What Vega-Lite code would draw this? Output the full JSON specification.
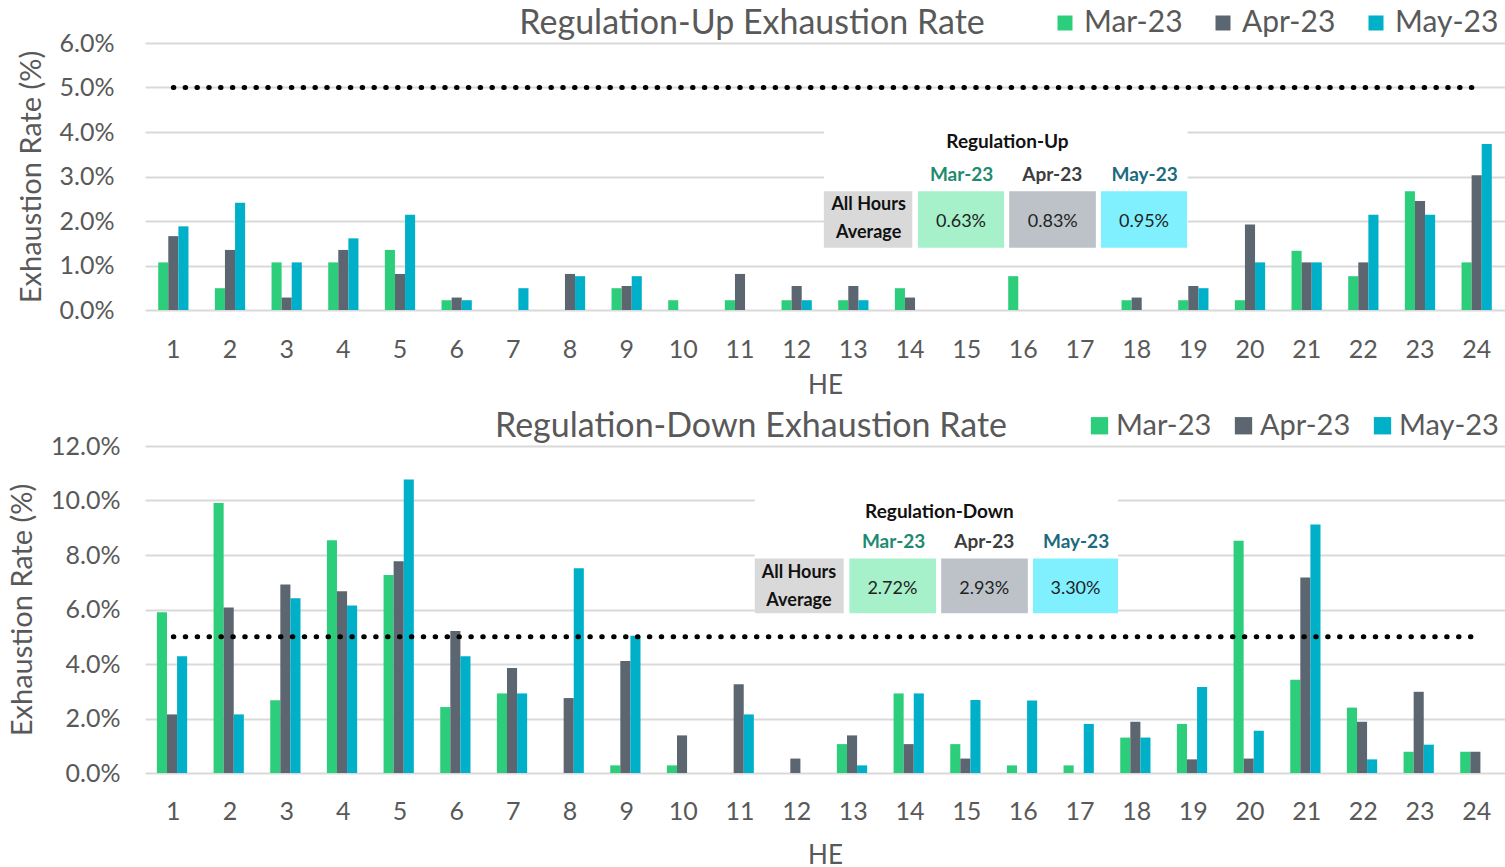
{
  "$schema": "https://vega.github.io/schema/vega-lite/v6.json",
  "padding": {"left": 8, "top": 7, "right": 0, "bottom": 0},
  "background": "white",
  "spacing": 12,
  "config": {
    "font": "Lato",
    "view": {"stroke": null},
    "axis": {"labelFont": "Lato", "titleFont": "Lato", "labelColor": "#595959", "titleColor": "#595959", "titleFontWeight": "normal", "gridColor": "#d9d9d9", "gridWidth": 2, "domain": false, "ticks": false}
  },
  "datasets": {
    "up": [
      {"he":1,"m":"Mar-23","v":1.07},{"he":1,"m":"Apr-23","v":1.66},{"he":1,"m":"May-23","v":1.88},
      {"he":2,"m":"Mar-23","v":0.49},{"he":2,"m":"Apr-23","v":1.35},{"he":2,"m":"May-23","v":2.41},
      {"he":3,"m":"Mar-23","v":1.07},{"he":3,"m":"Apr-23","v":0.28},{"he":3,"m":"May-23","v":1.07},
      {"he":4,"m":"Mar-23","v":1.07},{"he":4,"m":"Apr-23","v":1.35},{"he":4,"m":"May-23","v":1.61},
      {"he":5,"m":"Mar-23","v":1.35},{"he":5,"m":"Apr-23","v":0.81},{"he":5,"m":"May-23","v":2.14},
      {"he":6,"m":"Mar-23","v":0.22},{"he":6,"m":"Apr-23","v":0.28},{"he":6,"m":"May-23","v":0.22},
      {"he":7,"m":"Mar-23","v":0},{"he":7,"m":"Apr-23","v":0},{"he":7,"m":"May-23","v":0.49},
      {"he":8,"m":"Mar-23","v":0},{"he":8,"m":"Apr-23","v":0.81},{"he":8,"m":"May-23","v":0.76},
      {"he":9,"m":"Mar-23","v":0.49},{"he":9,"m":"Apr-23","v":0.54},{"he":9,"m":"May-23","v":0.76},
      {"he":10,"m":"Mar-23","v":0.22},{"he":10,"m":"Apr-23","v":0},{"he":10,"m":"May-23","v":0},
      {"he":11,"m":"Mar-23","v":0.22},{"he":11,"m":"Apr-23","v":0.81},{"he":11,"m":"May-23","v":0},
      {"he":12,"m":"Mar-23","v":0.22},{"he":12,"m":"Apr-23","v":0.54},{"he":12,"m":"May-23","v":0.22},
      {"he":13,"m":"Mar-23","v":0.22},{"he":13,"m":"Apr-23","v":0.54},{"he":13,"m":"May-23","v":0.22},
      {"he":14,"m":"Mar-23","v":0.49},{"he":14,"m":"Apr-23","v":0.28},{"he":14,"m":"May-23","v":0},
      {"he":15,"m":"Mar-23","v":0},{"he":15,"m":"Apr-23","v":0},{"he":15,"m":"May-23","v":0},
      {"he":16,"m":"Mar-23","v":0.76},{"he":16,"m":"Apr-23","v":0},{"he":16,"m":"May-23","v":0},
      {"he":17,"m":"Mar-23","v":0},{"he":17,"m":"Apr-23","v":0},{"he":17,"m":"May-23","v":0},
      {"he":18,"m":"Mar-23","v":0.22},{"he":18,"m":"Apr-23","v":0.28},{"he":18,"m":"May-23","v":0},
      {"he":19,"m":"Mar-23","v":0.22},{"he":19,"m":"Apr-23","v":0.54},{"he":19,"m":"May-23","v":0.49},
      {"he":20,"m":"Mar-23","v":0.22},{"he":20,"m":"Apr-23","v":1.92},{"he":20,"m":"May-23","v":1.07},
      {"he":21,"m":"Mar-23","v":1.33},{"he":21,"m":"Apr-23","v":1.07},{"he":21,"m":"May-23","v":1.07},
      {"he":22,"m":"Mar-23","v":0.76},{"he":22,"m":"Apr-23","v":1.07},{"he":22,"m":"May-23","v":2.14},
      {"he":23,"m":"Mar-23","v":2.67},{"he":23,"m":"Apr-23","v":2.45},{"he":23,"m":"May-23","v":2.14},
      {"he":24,"m":"Mar-23","v":1.07},{"he":24,"m":"Apr-23","v":3.03},{"he":24,"m":"May-23","v":3.73}
    ],
    "down": [
      {"he":1,"m":"Mar-23","v":5.9},{"he":1,"m":"Apr-23","v":2.15},{"he":1,"m":"May-23","v":4.28},
      {"he":2,"m":"Mar-23","v":9.91},{"he":2,"m":"Apr-23","v":6.07},{"he":2,"m":"May-23","v":2.15},
      {"he":3,"m":"Mar-23","v":2.67},{"he":3,"m":"Apr-23","v":6.92},{"he":3,"m":"May-23","v":6.41},
      {"he":4,"m":"Mar-23","v":8.54},{"he":4,"m":"Apr-23","v":6.67},{"he":4,"m":"May-23","v":6.15},
      {"he":5,"m":"Mar-23","v":7.27},{"he":5,"m":"Apr-23","v":7.77},{"he":5,"m":"May-23","v":10.77},
      {"he":6,"m":"Mar-23","v":2.42},{"he":6,"m":"Apr-23","v":5.21},{"he":6,"m":"May-23","v":4.28},
      {"he":7,"m":"Mar-23","v":2.92},{"he":7,"m":"Apr-23","v":3.85},{"he":7,"m":"May-23","v":2.92},
      {"he":8,"m":"Mar-23","v":0},{"he":8,"m":"Apr-23","v":2.75},{"he":8,"m":"May-23","v":7.51},
      {"he":9,"m":"Mar-23","v":0.28},{"he":9,"m":"Apr-23","v":4.11},{"he":9,"m":"May-23","v":5.04},
      {"he":10,"m":"Mar-23","v":0.28},{"he":10,"m":"Apr-23","v":1.38},{"he":10,"m":"May-23","v":0},
      {"he":11,"m":"Mar-23","v":0},{"he":11,"m":"Apr-23","v":3.26},{"he":11,"m":"May-23","v":2.15},
      {"he":12,"m":"Mar-23","v":0},{"he":12,"m":"Apr-23","v":0.53},{"he":12,"m":"May-23","v":0},
      {"he":13,"m":"Mar-23","v":1.06},{"he":13,"m":"Apr-23","v":1.38},{"he":13,"m":"May-23","v":0.28},
      {"he":14,"m":"Mar-23","v":2.92},{"he":14,"m":"Apr-23","v":1.06},{"he":14,"m":"May-23","v":2.92},
      {"he":15,"m":"Mar-23","v":1.06},{"he":15,"m":"Apr-23","v":0.53},{"he":15,"m":"May-23","v":2.68},
      {"he":16,"m":"Mar-23","v":0.28},{"he":16,"m":"Apr-23","v":0},{"he":16,"m":"May-23","v":2.66},
      {"he":17,"m":"Mar-23","v":0.28},{"he":17,"m":"Apr-23","v":0},{"he":17,"m":"May-23","v":1.8},
      {"he":18,"m":"Mar-23","v":1.3},{"he":18,"m":"Apr-23","v":1.88},{"he":18,"m":"May-23","v":1.3},
      {"he":19,"m":"Mar-23","v":1.8},{"he":19,"m":"Apr-23","v":0.5},{"he":19,"m":"May-23","v":3.16},
      {"he":20,"m":"Mar-23","v":8.52},{"he":20,"m":"Apr-23","v":0.53},{"he":20,"m":"May-23","v":1.55},
      {"he":21,"m":"Mar-23","v":3.42},{"he":21,"m":"Apr-23","v":7.17},{"he":21,"m":"May-23","v":9.12},
      {"he":22,"m":"Mar-23","v":2.4},{"he":22,"m":"Apr-23","v":1.88},{"he":22,"m":"May-23","v":0.5},
      {"he":23,"m":"Mar-23","v":0.78},{"he":23,"m":"Apr-23","v":2.98},{"he":23,"m":"May-23","v":1.04},
      {"he":24,"m":"Mar-23","v":0.78},{"he":24,"m":"Apr-23","v":0.78},{"he":24,"m":"May-23","v":0}
    ]
  },
  "vconcat": [
    {
      "width": 1360,
      "height": 267,
      "title": {"text": "Regulation-Up Exhaustion Rate", "fontSize": 34, "fontWeight": "normal", "color": "#595959", "font": "Lato", "anchor": "middle", "dx": -73, "dy": 39, "offset": 6},
      "resolve": {"scale": {"x": "independent"}},
      "layer": [
        {
          "data": {"name": "up"},
          "mark": {"type": "bar"},
          "encoding": {
            "x": {"field": "he", "type": "ordinal", "sort": "ascending", "scale": {"paddingInner": 0.466, "paddingOuter": 0.233}, "axis": {"title": "HE", "labelAngle": 0, "labelFontSize": 25, "titleFontSize": 26, "labelPadding": 27, "titlePadding": 10, "grid": false}},
            "xOffset": {"field": "m", "type": "nominal", "sort": ["Mar-23", "Apr-23", "May-23"], "scale": {"paddingInner": 0}},
            "y": {"field": "v", "type": "quantitative", "scale": {"domain": [0, 6], "nice": false}, "axis": {"title": "Exhaustion Rate (%)", "values": [0, 1, 2, 3, 4, 5, 6], "labelExpr": "format(datum.value, '.1f') + '%'", "labelFontSize": 25, "titleFontSize": 29, "labelPadding": 31, "titlePadding": 13}},
            "color": {"field": "m", "type": "nominal", "scale": {"domain": ["Mar-23", "Apr-23", "May-23"], "range": ["#2dce7b", "#5b6670", "#00afc8"]}, "legend": {"orient": "none", "legendX": 905, "legendY": -35, "direction": "horizontal", "title": null, "symbolType": "square", "symbolSize": 225, "labelFontSize": 30, "labelColor": "#595959", "labelOffset": 4, "columnPadding": 25, "labelFont": "Lato"}}
          }
        },
        {
          "data": {"values": [{}]},
          "layer": [
            {
              "mark": {"type": "rect", "color": "#ffffff"},
              "encoding": {"x": {"datum": 12.48, "type": "quantitative", "scale": {"domain": [0.5, 24.5], "nice": false, "zero": false}, "axis": null}, "x2": {"datum": 18.9}, "y": {"datum": 4.09, "type": "quantitative"}, "y2": {"datum": 1.4}}
            },
            {
              "mark": {"type": "rule", "color": "#000000", "strokeWidth": 5, "strokeCap": "round", "strokeDash": [0.5, 11.3]},
              "encoding": {
                "x": {"datum": 1, "type": "quantitative", "axis": null},
                "x2": {"datum": 24},
                "y": {"datum": 5, "type": "quantitative"}
              }
            },
            {
              "mark": {"type": "rect", "color": "#d9d9d9"},
              "encoding": {"x": {"datum": 12.48, "type": "quantitative", "axis": null}, "x2": {"datum": 14.04}, "y": {"datum": 2.67, "type": "quantitative"}, "y2": {"datum": 1.4}}
            },
            {
              "mark": {"type": "rect", "color": "#a6f0ca"},
              "encoding": {"x": {"datum": 14.14, "type": "quantitative", "axis": null}, "x2": {"datum": 15.66}, "y": {"datum": 2.67, "type": "quantitative"}, "y2": {"datum": 1.4}}
            },
            {
              "mark": {"type": "rect", "color": "#bcc2c8"},
              "encoding": {"x": {"datum": 15.75, "type": "quantitative", "axis": null}, "x2": {"datum": 17.28}, "y": {"datum": 2.67, "type": "quantitative"}, "y2": {"datum": 1.4}}
            },
            {
              "mark": {"type": "rect", "color": "#80f0ff"},
              "encoding": {"x": {"datum": 17.37, "type": "quantitative", "axis": null}, "x2": {"datum": 18.89}, "y": {"datum": 2.67, "type": "quantitative"}, "y2": {"datum": 1.4}}
            },
            {
              "mark": {"type": "text", "text": "Regulation-Up", "fontSize": 19, "fontWeight": "bold", "color": "#111111"},
              "encoding": {"x": {"datum": 15.72, "type": "quantitative", "axis": null}, "y": {"datum": 3.77, "type": "quantitative"}}
            },
            {
              "mark": {"type": "text", "text": "Mar-23", "fontSize": 19, "fontWeight": "bold", "color": "#1f8a70"},
              "encoding": {"x": {"datum": 14.91, "type": "quantitative", "axis": null}, "y": {"datum": 3.03, "type": "quantitative"}}
            },
            {
              "mark": {"type": "text", "text": "Apr-23", "fontSize": 19, "fontWeight": "bold", "color": "#3d3d3d"},
              "encoding": {"x": {"datum": 16.51, "type": "quantitative", "axis": null}, "y": {"datum": 3.03, "type": "quantitative"}}
            },
            {
              "mark": {"type": "text", "text": "May-23", "fontSize": 19, "fontWeight": "bold", "color": "#1b6a7e"},
              "encoding": {"x": {"datum": 18.14, "type": "quantitative", "axis": null}, "y": {"datum": 3.03, "type": "quantitative"}}
            },
            {
              "mark": {"type": "text", "text": "All Hours", "fontSize": 18, "fontWeight": "bold", "color": "#111111"},
              "encoding": {"x": {"datum": 13.27, "type": "quantitative", "axis": null}, "y": {"datum": 2.36, "type": "quantitative"}}
            },
            {
              "mark": {"type": "text", "text": "Average", "fontSize": 18, "fontWeight": "bold", "color": "#111111"},
              "encoding": {"x": {"datum": 13.27, "type": "quantitative", "axis": null}, "y": {"datum": 1.72, "type": "quantitative"}}
            },
            {
              "mark": {"type": "text", "text": "0.63%", "fontSize": 18, "color": "#222222"},
              "encoding": {"x": {"datum": 14.9, "type": "quantitative", "axis": null}, "y": {"datum": 1.98, "type": "quantitative"}}
            },
            {
              "mark": {"type": "text", "text": "0.83%", "fontSize": 18, "color": "#222222"},
              "encoding": {"x": {"datum": 16.52, "type": "quantitative", "axis": null}, "y": {"datum": 1.98, "type": "quantitative"}}
            },
            {
              "mark": {"type": "text", "text": "0.95%", "fontSize": 18, "color": "#222222"},
              "encoding": {"x": {"datum": 18.13, "type": "quantitative", "axis": null}, "y": {"datum": 1.98, "type": "quantitative"}}
            }
          ]
        }
      ]
    },
    {
      "width": 1360,
      "height": 327,
      "title": {"text": "Regulation-Down Exhaustion Rate", "fontSize": 34, "fontWeight": "normal", "color": "#595959", "font": "Lato", "anchor": "middle", "dx": -74, "dy": 39, "offset": 6},
      "resolve": {"scale": {"x": "independent"}},
      "layer": [
        {
          "data": {"name": "down"},
          "mark": {"type": "bar"},
          "encoding": {
            "x": {"field": "he", "type": "ordinal", "sort": "ascending", "scale": {"paddingInner": 0.42, "paddingOuter": 0.21}, "axis": {"title": "HE", "labelAngle": 0, "labelFontSize": 25, "titleFontSize": 26, "labelPadding": 26, "titlePadding": 18, "grid": false}},
            "xOffset": {"field": "m", "type": "nominal", "sort": ["Mar-23", "Apr-23", "May-23"], "scale": {"paddingInner": 0.14}},
            "y": {"field": "v", "type": "quantitative", "scale": {"domain": [0, 12], "nice": false}, "axis": {"title": "Exhaustion Rate (%)", "values": [0, 2, 4, 6, 8, 10, 12], "labelExpr": "format(datum.value, '.1f') + '%'", "labelFontSize": 25, "titleFontSize": 29, "labelPadding": 25, "titlePadding": 13}},
            "color": {"field": "m", "type": "nominal", "scale": {"domain": ["Mar-23", "Apr-23", "May-23"], "range": ["#2dce7b", "#5b6670", "#00afc8"]}, "legend": {"orient": "none", "legendX": 940, "legendY": -35, "direction": "horizontal", "title": null, "symbolType": "square", "symbolSize": 300, "labelFontSize": 29, "labelColor": "#595959", "labelOffset": 2, "columnPadding": 17, "labelFont": "Lato"}}
          }
        },
        {
          "data": {"values": [{}]},
          "layer": [
            {
              "mark": {"type": "rect", "color": "#ffffff"},
              "encoding": {"x": {"datum": 11.26, "type": "quantitative", "scale": {"domain": [0.5, 24.5], "nice": false, "zero": false}, "axis": null}, "x2": {"datum": 17.67}, "y": {"datum": 10.12, "type": "quantitative"}, "y2": {"datum": 5.86}}
            },
            {
              "mark": {"type": "rule", "color": "#000000", "strokeWidth": 5, "strokeCap": "round", "strokeDash": [0.5, 11.4]},
              "encoding": {
                "x": {"datum": 1, "type": "quantitative", "axis": null},
                "x2": {"datum": 24},
                "y": {"datum": 5, "type": "quantitative"}
              }
            },
            {
              "mark": {"type": "rect", "color": "#d9d9d9"},
              "encoding": {"x": {"datum": 11.26, "type": "quantitative", "axis": null}, "x2": {"datum": 12.83}, "y": {"datum": 7.87, "type": "quantitative"}, "y2": {"datum": 5.86}}
            },
            {
              "mark": {"type": "rect", "color": "#a6f0ca"},
              "encoding": {"x": {"datum": 12.93, "type": "quantitative", "axis": null}, "x2": {"datum": 14.46}, "y": {"datum": 7.87, "type": "quantitative"}, "y2": {"datum": 5.86}}
            },
            {
              "mark": {"type": "rect", "color": "#bcc2c8"},
              "encoding": {"x": {"datum": 14.55, "type": "quantitative", "axis": null}, "x2": {"datum": 16.08}, "y": {"datum": 7.87, "type": "quantitative"}, "y2": {"datum": 5.86}}
            },
            {
              "mark": {"type": "rect", "color": "#80f0ff"},
              "encoding": {"x": {"datum": 16.17, "type": "quantitative", "axis": null}, "x2": {"datum": 17.67}, "y": {"datum": 7.87, "type": "quantitative"}, "y2": {"datum": 5.86}}
            },
            {
              "mark": {"type": "text", "text": "Regulation-Down", "fontSize": 19, "fontWeight": "bold", "color": "#111111"},
              "encoding": {"x": {"datum": 14.52, "type": "quantitative", "axis": null}, "y": {"datum": 9.58, "type": "quantitative"}}
            },
            {
              "mark": {"type": "text", "text": "Mar-23", "fontSize": 19, "fontWeight": "bold", "color": "#1f8a70"},
              "encoding": {"x": {"datum": 13.71, "type": "quantitative", "axis": null}, "y": {"datum": 8.48, "type": "quantitative"}}
            },
            {
              "mark": {"type": "text", "text": "Apr-23", "fontSize": 19, "fontWeight": "bold", "color": "#3d3d3d"},
              "encoding": {"x": {"datum": 15.31, "type": "quantitative", "axis": null}, "y": {"datum": 8.48, "type": "quantitative"}}
            },
            {
              "mark": {"type": "text", "text": "May-23", "fontSize": 19, "fontWeight": "bold", "color": "#1b6a7e"},
              "encoding": {"x": {"datum": 16.93, "type": "quantitative", "axis": null}, "y": {"datum": 8.48, "type": "quantitative"}}
            },
            {
              "mark": {"type": "text", "text": "All Hours", "fontSize": 18, "fontWeight": "bold", "color": "#111111"},
              "encoding": {"x": {"datum": 12.04, "type": "quantitative", "axis": null}, "y": {"datum": 7.35, "type": "quantitative"}}
            },
            {
              "mark": {"type": "text", "text": "Average", "fontSize": 18, "fontWeight": "bold", "color": "#111111"},
              "encoding": {"x": {"datum": 12.04, "type": "quantitative", "axis": null}, "y": {"datum": 6.3, "type": "quantitative"}}
            },
            {
              "mark": {"type": "text", "text": "2.72%", "fontSize": 18, "color": "#222222"},
              "encoding": {"x": {"datum": 13.69, "type": "quantitative", "axis": null}, "y": {"datum": 6.77, "type": "quantitative"}}
            },
            {
              "mark": {"type": "text", "text": "2.93%", "fontSize": 18, "color": "#222222"},
              "encoding": {"x": {"datum": 15.31, "type": "quantitative", "axis": null}, "y": {"datum": 6.77, "type": "quantitative"}}
            },
            {
              "mark": {"type": "text", "text": "3.30%", "fontSize": 18, "color": "#222222"},
              "encoding": {"x": {"datum": 16.92, "type": "quantitative", "axis": null}, "y": {"datum": 6.77, "type": "quantitative"}}
            }
          ]
        }
      ]
    }
  ],
  "resolve": {"scale": {"color": "independent", "x": "independent", "y": "independent"}, "legend": {"color": "independent"}}
}
